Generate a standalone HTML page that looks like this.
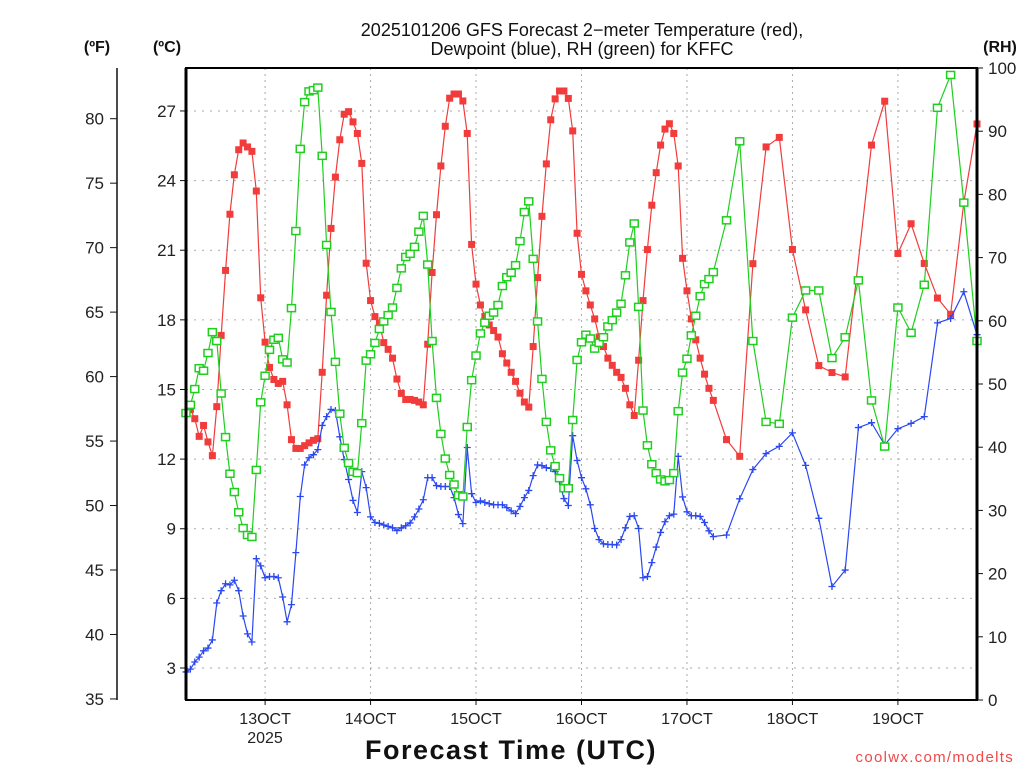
<!DOCTYPE html>
<html><head><meta charset="utf-8"><style>
html,body{margin:0;padding:0;background:#fff;}
svg{display:block;font-family:"Liberation Sans",sans-serif;}
</style></head><body>
<svg id="chart" width="1024" height="768" viewBox="0 0 1024 768" xmlns="http://www.w3.org/2000/svg">
<rect width="1024" height="768" fill="#fff"/>
<g id="grid"></g>
<g id="series"></g>
<g id="axes"></g>
<text x="582" y="36" font-size="18" text-anchor="middle" fill="#111">2025101206 GFS Forecast 2−meter Temperature (red),</text>
<text x="582" y="55" font-size="18" text-anchor="middle" fill="#111">Dewpoint (blue), RH (green) for KFFC</text>
<text x="97" y="52" font-size="16" font-weight="bold" text-anchor="middle" fill="#111">(ºF)</text>
<text x="167" y="52" font-size="16" font-weight="bold" text-anchor="middle" fill="#111">(ºC)</text>
<text x="1000" y="52" font-size="16" font-weight="bold" text-anchor="middle" fill="#111">(RH)</text>
<text x="511" y="759" font-size="27" font-weight="bold" text-anchor="middle" fill="#111" letter-spacing="1.5">Forecast Time (UTC)</text>
<text x="265" y="743" font-size="16" text-anchor="middle" fill="#222">2025</text>
<text x="1014" y="762" font-size="15" text-anchor="end" fill="#f04848" letter-spacing="1.3">coolwx.com/modelts</text>
</svg>
<script>
const HOURS=[0,1,2,3,4,5,6,7,8,9,10,11,12,13,14,15,16,17,18,19,20,21,22,23,24,25,26,27,28,29,30,31,32,33,34,35,36,37,38,39,40,41,42,43,44,45,46,47,48,49,50,51,52,53,54,55,56,57,58,59,60,61,62,63,64,65,66,67,68,69,70,71,72,73,74,75,76,77,78,79,80,81,82,83,84,85,86,87,88,89,90,91,92,93,94,95,96,97,98,99,100,101,102,103,104,105,106,107,108,109,110,111,112,113,114,115,116,117,118,119,120,123,126,129,132,135,138,141,144,147,150,153,156,159,162,165,168,171,174,177,180];
const TEMP_C=[null,14.14,13.74,12.98,13.45,12.74,12.15,14.26,17.33,20.13,22.55,
24.25,25.33,25.62,25.45,25.26,23.55,18.95,17.04,15.95,15.43,
15.26,15.35,14.34,12.84,12.46,12.46,12.58,12.70,12.81,12.88,
15.74,19.06,21.94,24.15,25.76,26.86,26.97,26.53,26.03,24.74,
20.44,18.83,18.14,17.85,17.02,16.73,16.35,15.45,14.83,14.57,
14.57,14.53,14.46,14.34,16.95,20.04,22.53,24.63,26.34,27.55,
27.73,27.73,27.43,26.03,21.25,19.54,18.64,18.14,17.78,17.54,
17.26,16.54,16.14,15.74,15.35,14.84,14.46,14.24,16.85,19.82,
22.46,24.72,26.62,27.52,27.86,27.86,27.54,26.14,21.73,19.96,
19.25,18.64,18.04,17.26,16.85,16.35,16.04,15.74,15.52,15.05,
14.34,13.88,16.26,18.83,21.03,22.94,24.34,25.53,26.22,26.45,
26.03,24.63,20.65,19.25,18.04,17.14,16.35,15.66,15.05,14.53,
12.84,12.12,20.42,25.45,25.86,21.03,18.43,16.03,15.73,15.54,null,25.53,27.42,20.86,22.14,20.43,18.94,18.24,23.05,26.44];
const DEWP_C=[2.83,2.95,3.26,3.47,3.74,3.86,4.21,5.80,6.33,6.63,6.58,
6.78,6.33,5.24,4.47,4.12,7.71,7.40,6.89,6.94,6.94,
6.89,6.06,4.99,5.73,7.97,10.39,11.75,12.06,12.19,12.41,
13.45,13.83,14.14,14.09,12.96,11.98,11.12,10.22,9.70,11.46,
10.77,9.51,9.27,9.23,9.16,9.10,9.04,8.92,9.04,9.13,
9.25,9.51,9.85,10.25,11.20,11.20,10.86,10.82,10.82,10.82,
10.34,9.61,9.22,12.50,10.51,10.13,10.20,10.13,10.08,10.03,
10.03,10.03,9.91,9.77,9.65,9.96,10.34,10.65,11.29,11.75,
11.72,11.63,11.60,11.46,11.03,10.30,10.00,13.01,11.94,11.20,
10.72,10.03,9.01,8.53,8.35,8.32,8.32,8.30,8.53,9.04,
9.53,9.56,9.01,6.89,6.94,7.54,8.21,8.84,9.30,9.56,
9.63,12.12,10.37,9.73,9.56,9.56,9.53,9.27,8.91,8.66,
8.73,10.29,11.55,12.24,12.55,13.13,11.73,9.45,6.51,7.22,13.36,13.57,12.61,13.31,13.54,13.83,17.87,18.06,19.21,17.36];
const RH=[45.4,46.7,49.2,52.5,52.1,54.9,58.2,56.8,48.5,41.6,35.8,
32.9,29.7,27.2,26.1,25.8,36.4,47.1,51.3,55.4,57.0,
57.3,53.9,53.4,62.0,74.2,87.2,94.6,96.3,96.5,96.9,
86.1,72.0,61.4,53.5,45.3,39.9,37.5,36.1,35.9,43.8,
53.7,54.7,56.5,58.7,59.9,60.9,62.1,65.2,68.3,70.1,
70.6,71.7,74.1,76.6,68.9,56.8,47.8,42.1,38.2,35.6,
34.1,32.4,32.2,43.2,50.6,54.5,58.0,59.7,60.8,61.3,
62.5,65.5,66.9,67.6,68.8,72.6,77.2,78.9,69.8,59.9,
50.8,44.0,39.5,37.0,35.1,33.5,33.5,44.3,53.8,56.6,
57.8,57.2,55.6,56.5,57.4,59.1,60.1,61.3,62.7,67.2,
72.4,75.4,62.2,45.8,40.3,37.3,35.9,34.9,34.6,34.8,
35.9,45.7,51.8,54.0,57.7,60.8,63.9,65.8,66.6,67.7,
75.9,88.4,56.8,44.0,43.7,60.5,64.8,64.8,54.1,57.4,66.4,47.4,40.1,62.1,58.1,65.7,93.7,98.9,78.7,56.8];
const C_TICKS=[3,6,9,12,15,18,21,24,27];
const F_TICKS=[35,40,45,50,55,60,65,70,75,80];
const RH_TICKS=[0,10,20,30,40,50,60,70,80,90,100];
const DAY_HOURS=[18,42,66,90,114,138,162];
const DAY_LABELS=["13OCT","14OCT","15OCT","16OCT","17OCT","18OCT","19OCT"];

const NS="http://www.w3.org/2000/svg";
const X0=186,X1=977,YT=68,YB=700;
function xS(h){return X0+h*(X1-X0)/180;}
function yC(c){return 668-(c-3)*23.21;}
function yF(f){return yC((f-32)*5/9);}
function yR(r){return YB-r*(YB-YT)/100;}
function mk(tag,attrs,parent){const e=document.createElementNS(NS,tag);for(const k in attrs)e.setAttribute(k,attrs[k]);parent.appendChild(e);return e;}
const grid=document.getElementById('grid'),ser=document.getElementById('series'),axes=document.getElementById('axes');

C_TICKS.forEach(c=>{const y=yC(c);
 const g=mk('line',{x1:X0,x2:X1,y1:y,y2:y,stroke:'#aaa','stroke-width':1,'stroke-dasharray':'2,6'},grid);
 
 
 const t=mk('line',{x1:X0-6,x2:X0,y1:y,y2:y,stroke:'#111','stroke-width':1},axes);
 
 
 const l=mk('text',{x:X0-10,y:y+6,'font-size':17,'text-anchor':'end',fill:'#222'},axes);l.textContent=c;
 
 
});
F_TICKS.forEach(f=>{const y=yF(f);
 const t=mk('line',{x1:110,x2:117,y1:y,y2:y,stroke:'#111','stroke-width':1},axes);
 
 
 const l=mk('text',{x:104,y:y+6,'font-size':17,'text-anchor':'end',fill:'#222'},axes);l.textContent=f;
 
 
});
RH_TICKS.forEach(r=>{const y=yR(r);
 const t=mk('line',{x1:X1,x2:X1+6,y1:y,y2:y,stroke:'#111','stroke-width':1},axes);
 
 
 const l=mk('text',{x:988,y:y+6,'font-size':17,'text-anchor':'start',fill:'#222'},axes);l.textContent=r;
 
 
});
DAY_HOURS.forEach((h,i)=>{const x=xS(h);
 const g=mk('line',{x1:x,x2:x,y1:YT,y2:YB,stroke:'#aaa','stroke-width':1,'stroke-dasharray':'2,4'},grid);
 
 
 const t=mk('line',{x1:x,x2:x,y1:YB,y2:YB+5,stroke:'#111','stroke-width':1},axes);
 
 
 const l=mk('text',{x:x,y:724,'font-size':16,'text-anchor':'middle',fill:'#222'},axes);l.textContent=DAY_LABELS[i];
 
 
});
const fr=mk('path',{d:`M${X0} ${YT}H${X1}V${YB}H${X0}Z`,fill:'none',stroke:'#000','stroke-width':2},axes);


const fa=mk('line',{x1:117,x2:117,y1:YT,y2:YB,stroke:'#111','stroke-width':1.5},axes);


mk('line',{x1:X0,x2:X0,y1:YT,y2:YB,stroke:'#000','stroke-width':3},axes);
mk('line',{x1:X1,x2:X1,y1:YT,y2:YB,stroke:'#000','stroke-width':3},axes);

function series(vals,yfn,color,name,marker){
 const g=mk('g',{},ser);
 
 
 let d='';let pen=false;
 HOURS.forEach((h,i)=>{const v=vals[i];if(v==null)return;
  d+=(pen?'L':'M')+xS(h).toFixed(1)+' '+yfn(v).toFixed(1);pen=true;});
 const p=mk('path',{d:d,fill:'none',stroke:color,'stroke-width':1.2},g);
 
 
 HOURS.forEach((h,i)=>{const v=vals[i];if(v==null)return;const x=xS(h),y=yfn(v);let m;
  if(marker==='fill'){m=mk('rect',{x:x-3.5,y:y-3.5,width:7,height:7,fill:color},g);}
  else if(marker==='open'){m=mk('rect',{x:x-4,y:y-3.5,width:8,height:7,fill:'#fff',stroke:color,'stroke-width':1.5},g);}
  else {m=mk('path',{d:`M${x-3.5} ${y}H${x+3.5}M${x} ${y-3.5}V${y+3.5}`,stroke:color,'stroke-width':1.3},g);}
  
  
 });
}
series(TEMP_C,yC,'#f23b3b','temperature','fill');
series(DEWP_C,yC,'#2b48f0','dewpoint','plus');
series(RH,yR,'#1ecf1e','rh','open');
</script>
</body></html>
